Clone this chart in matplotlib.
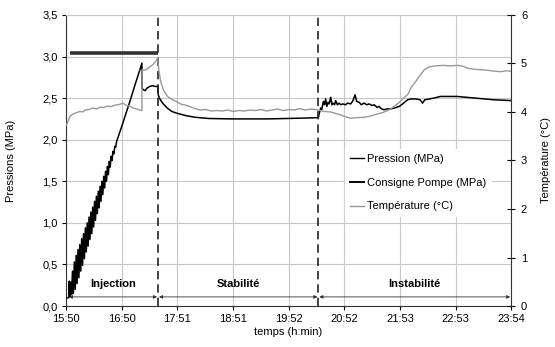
import matplotlib
matplotlib.use('Agg')
import matplotlib.pyplot as plt
from matplotlib.lines import Line2D

plt.rcParams['font.family'] = ['Liberation Sans', 'DejaVu Sans']
plt.rcParams['font.size'] = 8
plt.rcParams['path.simplify'] = False

# axe des temps en minutes depuis 15:50
tick_labels = ['15:50', '16:50', '17:51', '18:51', '19:52', '20:52', '21:53', '22:53', '23:54']
t_end = 484

# pression mesuree (MPa)
pression_t = [0, 3, 3.5, 4,
              5, 6, 7, 8, 9, 10, 11, 12, 13, 14, 15, 16, 17, 18, 19, 20,
              21, 22, 23, 24, 25, 26, 27, 28, 29, 30, 31, 32, 33, 34, 35, 36,
              37, 38, 39, 40, 41, 42, 43, 44, 45, 46, 47, 48, 49, 50, 51, 52,
              53, 54, 55, 60, 65, 70, 75, 80, 82.5,
              82.6, 84, 86, 88, 91, 94, 97, 99.8,
              100.2, 102, 105, 110, 115, 120, 130, 140, 155, 180, 220, 260, 274.4,
              275, 276.9, 278, 279.8, 281, 282.3, 283.5, 284.9, 286, 287.8, 289,
              290.3, 292, 293.2, 295, 297, 298.7, 301, 304.1, 306, 309.6, 312,
              314.3, 316, 318.7, 321, 324.1, 327, 329.6, 333, 335, 338, 340.4,
              343, 345.9, 349, 353.2, 357, 362.3, 366, 371.4, 375, 380, 385,
              387.7, 390, 395, 400, 407, 415, 425, 435, 445, 455, 465, 475, 484]
pression = [0.10, 0.10, 0.30, 0.12,
            0.29, 0.14, 0.42, 0.15, 0.53, 0.20, 0.61, 0.27, 0.68, 0.34, 0.74, 0.42, 0.81, 0.49, 0.87, 0.57,
            0.94, 0.65, 1.00, 0.72, 1.07, 0.80, 1.13, 0.87, 1.19, 0.95, 1.26, 1.03, 1.32, 1.11, 1.38, 1.18,
            1.44, 1.26, 1.50, 1.34, 1.56, 1.42, 1.62, 1.50, 1.68, 1.58, 1.74, 1.67, 1.80, 1.75, 1.86, 1.83,
            1.92, 1.91, 1.98, 2.14, 2.31, 2.48, 2.66, 2.83, 2.92,
            2.62, 2.60, 2.59, 2.62, 2.64, 2.65, 2.64, 2.64,
            2.54, 2.49, 2.44, 2.38, 2.34, 2.32, 2.29, 2.27, 2.255, 2.25, 2.25, 2.26, 2.265,
            2.30, 2.38, 2.36, 2.46, 2.42, 2.49, 2.40, 2.45, 2.43, 2.51, 2.42,
            2.44, 2.42, 2.47, 2.42, 2.44, 2.42, 2.43, 2.42, 2.44, 2.43, 2.47,
            2.54, 2.46, 2.45, 2.42, 2.44, 2.42, 2.43, 2.41, 2.42, 2.39, 2.40,
            2.37, 2.36, 2.37, 2.37, 2.38, 2.40, 2.43, 2.48, 2.49, 2.49, 2.48,
            2.44, 2.48, 2.49, 2.50, 2.52, 2.52, 2.52, 2.51, 2.50, 2.49, 2.48, 2.475, 2.47]

# consigne pompe (MPa)
consigne_t = [4, 100]
consigne = [3.04, 3.04]

# temperature (degC)
temp_t = [0.5, 2, 4, 6, 9, 12, 15, 18, 21, 25, 29, 33, 37, 41, 45, 49, 53, 57, 62, 65,
          69, 73, 77, 80, 82.5, 82.6, 85, 88, 91, 94, 97, 99.5, 101, 103, 106, 110,
          113, 117, 120.6, 125, 130, 135, 140, 146, 152, 158, 164, 170, 176, 182,
          188, 194, 200, 206, 212, 218, 224, 230, 236, 242, 248, 254, 260, 266,
          272, 276, 281, 287.8, 293, 298.7, 304, 309.6, 315, 324, 330, 335, 341,
          346, 352, 357, 362, 368, 372, 375, 380, 384, 389.5, 395, 402, 410, 418,
          426, 432, 437, 444, 451, 458, 466, 473, 479, 484]
temperature = [3.73, 3.80, 3.90, 3.94, 3.97, 3.99, 4.01, 4.00, 4.04, 4.05, 4.08, 4.06, 4.10, 4.09, 4.12, 4.11, 4.14, 4.15, 4.18, 4.14,
               4.12, 4.08, 4.06, 4.04, 4.03, 4.87, 4.86, 4.88, 4.93, 4.97, 5.03, 5.11, 4.85, 4.62, 4.45, 4.33,
               4.28, 4.24, 4.21, 4.16, 4.14, 4.11, 4.07, 4.04, 4.05, 4.02, 4.03, 4.02, 4.04, 4.01,
               4.03, 4.02, 4.04, 4.03, 4.05, 4.02, 4.04, 4.06, 4.03, 4.05, 4.04, 4.07, 4.04, 4.06,
               4.05, 4.03, 4.01, 4.00, 3.97, 3.94, 3.90, 3.87, 3.88, 3.89, 3.91, 3.94, 3.97,
               4.00, 4.05, 4.12, 4.19, 4.30, 4.37, 4.50, 4.62, 4.73, 4.87, 4.93, 4.95, 4.96, 4.95,
               4.96, 4.94, 4.90, 4.88, 4.87, 4.86, 4.84, 4.83, 4.85, 4.84]

# phases de l'essai
phases = ['Injection', 'Stabilité', 'Instabilité']
phase_bounds = [2, 100, 274.4, 484]

fig = plt.figure(figsize=(5.55, 3.47), dpi=100)
ax = fig.add_axes([0.119, 0.118, 0.802, 0.839])
ax2 = ax.twinx()

ax.plot(consigne_t, consigne, color='#333333', lw=2.6, solid_capstyle='butt', zorder=3)
ax.plot(pression_t, pression, color='black', lw=1.1, zorder=4)
ax2.plot(temp_t, temperature, color='#999999', lw=1.0)

# separations des phases
for xb in phase_bounds[1:3]:
    ax.axvline(xb, color='#222222', lw=1.2, ls=(0, (5, 3)), zorder=5)

for i, name in enumerate(phases):
    x0, x1 = phase_bounds[i], phase_bounds[i + 1]
    ax.annotate('', xy=(x0 + 1, 0.11), xytext=(x1 - 1, 0.11),
                arrowprops=dict(arrowstyle='<|-|>,head_length=0.25,head_width=0.12',
                                color='#333333', lw=0.6, shrinkA=0, shrinkB=0))
    ax.text((x0 + x1) / 2, 0.2, name, ha='center', va='bottom', fontweight='bold', fontsize=8)

ticks = [i * t_end / 8 for i in range(9)]
ax.set_xlim(0, t_end)
ax.set_xticks(ticks)
ax.set_xticklabels(tick_labels)
ax.set_ylim(0, 3.5)
yt = [i * 0.5 for i in range(8)]
ax.set_yticks(yt)
ax.set_yticklabels([f'{v:.1f}'.replace('.', ',') for v in yt])
ax2.set_ylim(0, 6)
ax2.set_yticks(range(7))

ax.grid(True, color='#c8c8c8', lw=0.8)
ax.set_axisbelow(True)
ax.tick_params(axis='both', length=3, width=0.8, pad=3)
ax2.tick_params(axis='y', direction='inout', length=6, width=0.8, pad=4)
for s in ['left', 'bottom']:
    ax.spines[s].set_color('#333333')
ax.spines['top'].set_color('#c8c8c8')
ax.spines['right'].set_visible(False)
ax2.spines['top'].set_visible(False)
ax2.spines['left'].set_visible(False)
ax2.spines['bottom'].set_visible(False)
ax2.spines['right'].set_color('#333333')

ax.set_xlabel('temps (h:min)', labelpad=2)
ax.set_ylabel('Pressions (MPa)', labelpad=19)
ax2.set_ylabel('Température (°C)', labelpad=10)

handles = [Line2D([], [], color='black', lw=1.0),
           Line2D([], [], color='black', lw=1.4),
           Line2D([], [], color='#999999', lw=1.0)]
labels = ['Pression (MPa)', 'Consigne Pompe (MPa)', 'Température (°C)']
leg = ax2.legend(handles, labels, loc='upper left', bbox_to_anchor=(0.622, 0.57),
                 bbox_transform=fig.transFigure, frameon=True, fancybox=False,
                 edgecolor='white', facecolor='white', framealpha=1,
                 handlelength=1.3, handletextpad=0.25, labelspacing=1.25,
                 borderpad=0.4, borderaxespad=0)

fig.savefig('out.png', dpi=100)
